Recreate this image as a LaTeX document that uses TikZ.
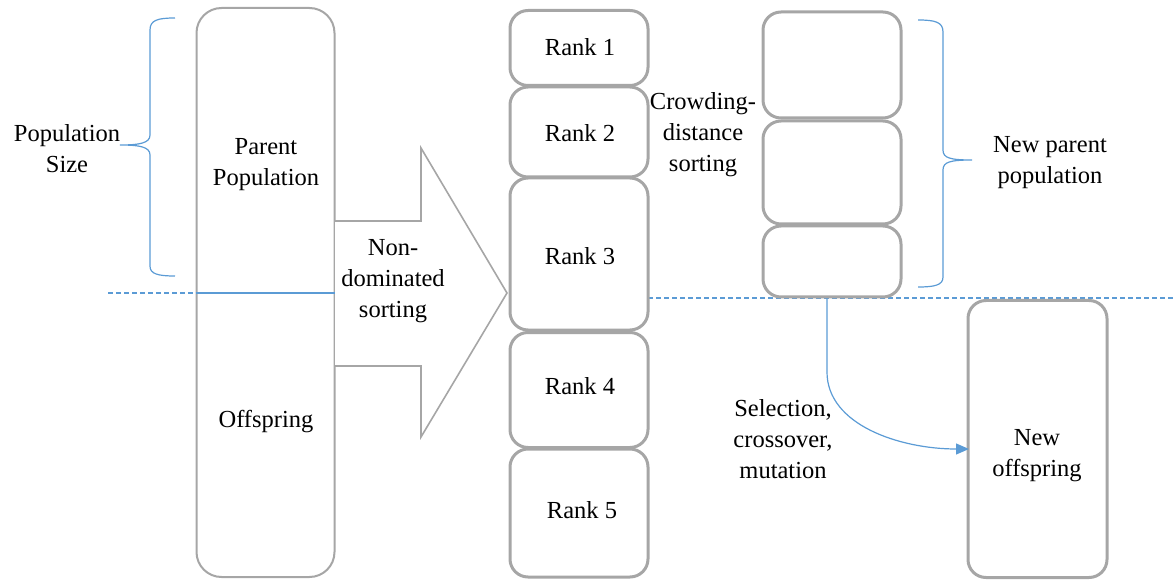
\documentclass[tikz,border=0pt]{standalone}
\usepackage{fontspec}
\setmainfont{Liberation Serif}
\newfontfamily\tnr{Liberation Serif}
\usetikzlibrary{arrows.meta}
\definecolor{boxgray}{HTML}{A6A6A6}
\definecolor{lineblue}{HTML}{5B9BD5}
\begin{document}
\begin{tikzpicture}[x=1pt,y=-1pt,
  every node/.style={font=\tnr\fontsize{24.5}{31}\selectfont, align=center, text=black},
  bigbox/.style={draw=boxgray, line width=2pt, rounded corners=25pt, fill=white, inner sep=0pt},
  rankbox/.style={draw=boxgray, line width=3pt, rounded corners=18pt, fill=white, inner sep=0pt},
  lbl/.style={inner sep=0pt},
  bluel/.style={draw=lineblue, line width=1.2pt},
  brace/.style={draw=lineblue, line width=1.2pt}
]
\useasboundingbox (0,0) rectangle (1176,580);
% dashed separator on the right
\draw[bluel, dash pattern=on 5pt off 3pt] (648,298) -- (1176,298);
% left big box
\node[bigbox, minimum width=138pt, minimum height=569pt] (parent) at (265.5,292.5) {};
\node[lbl] (partxt) at (266,165) {Parent\\Population};
\node[lbl] (offtxt) at (266,422) {Offspring};
% separator on the left
\draw[bluel, dash pattern=on 5pt off 3pt] (108,293) -- (parent.west |- 0,293);
\draw[bluel] (parent.west |- 0,293) -- (parent.east |- 0,293);
% block arrow
\draw[draw=boxgray, line width=1.6pt, fill=white, line join=miter]
  (335,221) -- (421,221) -- (421,148) -- (507,293) -- (421,437) -- (421,366) -- (335,366);
\node[lbl] (ndtxt) at (393,281) {Non-\\dominated\\sorting};
% rank boxes
\node[rankbox, minimum width=138pt, minimum height=75pt] (r1) at (579,48) {};
\node[rankbox, minimum width=138pt, minimum height=90pt] (r2) at (579,132) {};
\node[rankbox, minimum width=138pt, minimum height=152pt] (r3) at (579,254) {};
\node[rankbox, minimum width=138pt, minimum height=115pt] (r4) at (579,390) {};
\node[rankbox, minimum width=138pt, minimum height=128pt] (r5) at (579,513) {};
\node[lbl] (r1t) at (580,47) {Rank 1};
\node[lbl] (r2t) at (580,133) {Rank 2};
\node[lbl] (r3t) at (580,256) {Rank 3};
\node[lbl] (r4t) at (580,386) {Rank 4};
\node[lbl] (r5t) at (582,510) {Rank 5};
% crowding distance label
\node[lbl] (cdtxt) at (703,135) {Crowding-\\distance\\sorting};
% new parent stack
\node[rankbox, minimum width=138pt, minimum height=106pt] (c1) at (832,65) {};
\node[rankbox, minimum width=138pt, minimum height=103pt] (c2) at (832,172.5) {};
\node[rankbox, minimum width=138pt, minimum height=71pt] (c3) at (832,261.5) {};
% right brace
\draw[brace] (918,20) .. controls (935,20) and (943,22) .. (943,32) -- (943,150)
  .. controls (943,158) and (950,160) .. (972,160)
  .. controls (950,160) and (943,162) .. (943,170) -- (943,277)
  .. controls (943,285) and (935,287) .. (918,287);
\node[lbl] (nptxt) at (1050,163) {New parent\\population};
% left brace
\draw[brace] (175,18) .. controls (158,18) and (150,20) .. (150,30) -- (150,135)
  .. controls (150,143) and (140,145) .. (120,145)
  .. controls (140,145) and (150,147) .. (150,155) -- (150,266)
  .. controls (150,274) and (158,276) .. (175,276);
\node[lbl] (pstxt) at (67,149) {Population\\Size};
% new offspring
\node[rankbox, minimum width=139pt, minimum height=277pt] (newoff) at (1037.5,439) {};
\node[lbl] (notxt) at (1037,456) {New\\offspring};
% selection arrow
\coordinate (tip) at (969,449);
\draw[bluel, -{Triangle[length=13pt,width=11pt]}] ([xshift=-5pt]c3.south) -- (827,372)
  .. controls (827,425) and (900,449) .. (tip);
\node[lbl] (sctxt) at (783,439) {Selection,\\crossover,\\mutation};
\end{tikzpicture}
\end{document}
